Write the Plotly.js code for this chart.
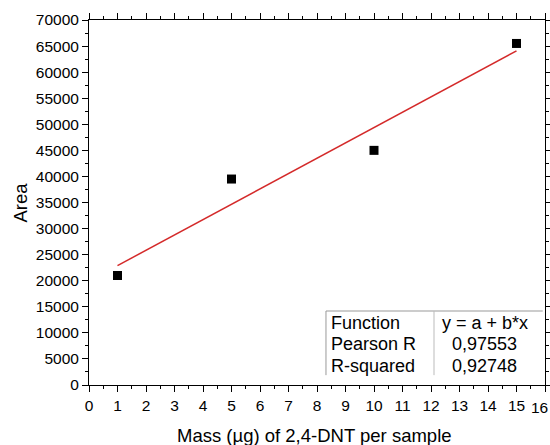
<!DOCTYPE html>
<html><head><meta charset="utf-8">
<script src="https://cdn.plot.ly/plotly-3.0.1.min.js"></script>
<style>html,body{margin:0;padding:0;background:#fff}#c{width:550px;height:445px}</style>
</head><body><div id="c"></div>
<script>
const mass = [1, 5, 10, 15];
const area = [21000, 39500, 45000, 65500];
const tableRows = [["Function", "y = a + b*x"], ["Pearson R", "0,97553"], ["R-squared", "0,92748"]];
const xTitle = 'Mass (µg) of 2,4-DNT per sample';
const yTitle = 'Area';

// linear least-squares fit from data
const n = mass.length;
const mx = mass.reduce((a,b)=>a+b,0)/n, my = area.reduce((a,b)=>a+b,0)/n;
let sxy=0, sxx=0;
for (let i=0;i<n;i++){sxy+=(mass[i]-mx)*(area[i]-my); sxx+=(mass[i]-mx)**2;}
const b = sxy/sxx, a = my - b*mx;
const fitX = [mass[0], mass[n-1]];
const fitY = fitX.map(x=>a+b*x);

const F = "Liberation Sans, Arial, sans-serif";
const data = [
  {x: fitX, y: fitY, mode:'lines', line:{color:'#d42a2a', width:1.5}, hoverinfo:'skip'},
  {x: mass, y: area, mode:'markers', marker:{symbol:'square', size:9, color:'#000'}}
];

const shapes = [
  {type:'line', xref:'paper', yref:'paper', x0:0.5197, x1:0.5197, y0:0.027, y1:0.2027, line:{color:'#999', width:1}},
  {type:'line', xref:'paper', yref:'paper', x0:0.5197, x1:0.995, y0:0.2027, y1:0.2027, line:{color:'#999', width:1}},
  {type:'line', xref:'paper', yref:'paper', x0:0.7566, x1:0.7566, y0:0.027, y1:0.2027, line:{color:'#bbb', width:1}}
];
const annotations = [];
const rowY = [0.1685, 0.111, 0.0534];
tableRows.forEach((r,i)=>{
  annotations.push({xref:'paper', yref:'paper', x:0.526, y:rowY[i], xanchor:'left', yanchor:'middle', text:r[0], showarrow:false, font:{family:F, size:18, color:'#000'}});
  annotations.push({xref:'paper', yref:'paper', x:0.8684, y:rowY[i], xanchor:'center', yanchor:'middle', text:r[1], showarrow:false, font:{family:F, size:18, color:'#000'}});
});
annotations.push({xref:'x', yref:'paper', x:16, y:0, yshift:-22, xshift:5, xanchor:'right', yanchor:'middle', text:'16', showarrow:false, font:{family:F, size:15.5, color:'#000'}});
annotations.push({xref:'paper', yref:'paper', x:0.4956, y:-0.137, xanchor:'center', yanchor:'middle', text:xTitle, showarrow:false, font:{family:F, size:18.5, color:'#000'}});
annotations.push({xref:'paper', yref:'paper', x:-0.1513, y:0.5, xanchor:'center', yanchor:'middle', textangle:-90, text:yTitle, showarrow:false, font:{family:F, size:18.5, color:'#000'}});

const layout = {
  width:550, height:445,
  margin:{l:89, r:5, t:20, b:60},
  paper_bgcolor:'#fff', plot_bgcolor:'#fff',
  showlegend:false,
  font:{family:F, size:15.5, color:'#000'},
  xaxis:{range:[0,16], dtick:1, tick0:0, showgrid:false, zeroline:false, showline:true, linecolor:'#000', linewidth:1, mirror:'ticks', ticks:'outside', ticklen:6, tickcolor:'#000', tickfont:{family:F, size:15.5},
    minor:{ticks:'outside', ticklen:3, dtick:0.5, tickcolor:'#000', showgrid:false}},
  yaxis:{range:[0,70000], dtick:5000, tick0:0, tickformat:'d', showgrid:false, zeroline:false, showline:true, linecolor:'#000', linewidth:1, mirror:'ticks', ticks:'outside', ticklen:6, tickcolor:'#000', tickfont:{family:F, size:15.5},
    minor:{ticks:'outside', ticklen:3, dtick:2500, tickcolor:'#000', showgrid:false}},
  shapes, annotations
};
Plotly.newPlot('c', data, layout, {displayModeBar:false, staticPlot:true});
</script></body></html>
